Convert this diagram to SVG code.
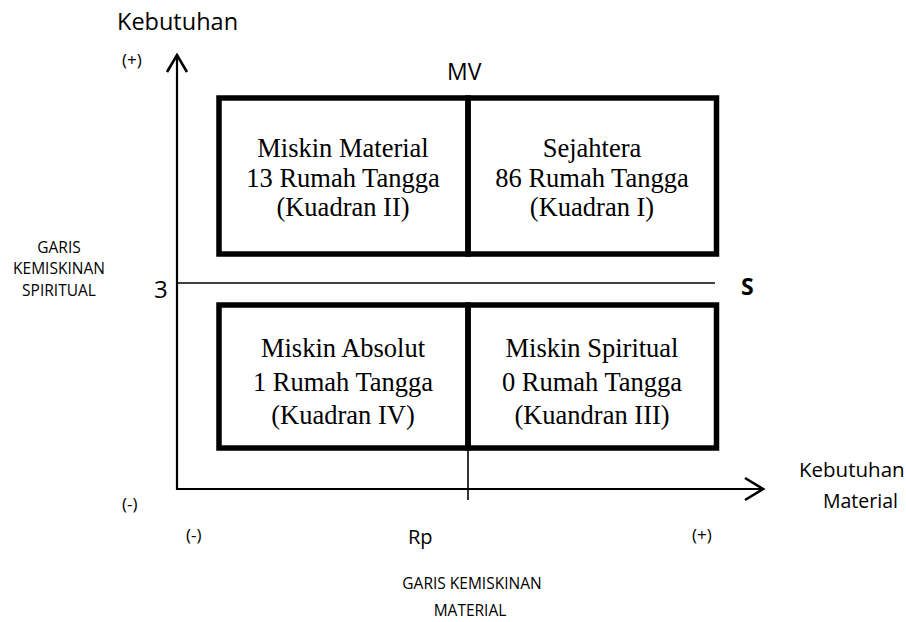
<svg xmlns="http://www.w3.org/2000/svg" width="906" height="622" viewBox="0 0 906 622">
<style>
.box{fill:none;stroke:#000;stroke-width:5.5}
.thin{fill:none;stroke:#000;stroke-width:1.6}
.axis{fill:none;stroke:#000;stroke-width:2.2}
.head{fill:none;stroke:#000;stroke-width:2.6;stroke-linejoin:miter}
.q{font-family:"Liberation Serif","Times New Roman",serif;font-size:26.5px;fill:#000;text-anchor:middle}
.s{font-family:"Open Sans","Liberation Sans",Arial,sans-serif;fill:#000}
</style>
<rect width="906" height="622" fill="#fff"/>
<g id="connectors">
<line class="axis" x1="177" y1="490" x2="177" y2="55"/>
<polyline class="head" points="167,72 177,55 187,72"/>
<line class="axis" x1="176" y1="489" x2="762" y2="489"/>
<polyline class="head" points="745,478 763,489 745,500"/>
<line class="thin" x1="177" y1="283" x2="715" y2="283"/>
<line class="thin" x1="468" y1="448" x2="468" y2="500"/>
</g>
<g id="quadrant-II">
<rect class="box" x="219" y="98" width="249" height="156"/>
<text class="q" x="343" y="157">Miskin Material</text>
<text class="q" x="343" y="187">13 Rumah Tangga</text>
<text class="q" x="343" y="216">(Kuadran II)</text>
</g>
<g id="quadrant-I">
<rect class="box" x="468" y="98" width="248.5" height="156"/>
<text class="q" x="592" y="157">Sejahtera</text>
<text class="q" x="592" y="187">86 Rumah Tangga</text>
<text class="q" x="592" y="216">(Kuadran I)</text>
</g>
<g id="quadrant-IV">
<rect class="box" x="219" y="305" width="249" height="143"/>
<text class="q" x="343" y="357">Miskin Absolut</text>
<text class="q" x="343" y="391">1 Rumah Tangga</text>
<text class="q" x="343" y="424">(Kuadran IV)</text>
</g>
<g id="quadrant-III">
<rect class="box" x="468" y="305" width="248.5" height="143"/>
<text class="q" x="592" y="357">Miskin Spiritual</text>
<text class="q" x="592" y="391">0 Rumah Tangga</text>
<text class="q" x="592" y="424">(Kuandran III)</text>
</g>
<g id="labels">
<text class="s" x="117" y="30" font-size="23.5">Kebutuhan</text>
<text class="s" x="122" y="66" font-size="17">(+)</text>
<text class="s" x="447" y="80" font-size="23">MV</text>
<text class="s" x="59" y="253" font-size="15.5" text-anchor="middle">GARIS</text>
<text class="s" x="59" y="274" font-size="15.5" text-anchor="middle">KEMISKINAN</text>
<text class="s" x="59" y="296" font-size="15.5" text-anchor="middle">SPIRITUAL</text>
<text class="s" x="154" y="298" font-size="24">3</text>
<text class="s" x="741" y="295" font-size="23" font-weight="bold">S</text>
<text class="s" x="799" y="477" font-size="20.5">Kebutuhan</text>
<text class="s" x="823" y="508" font-size="19.5">Material</text>
<text class="s" x="122" y="510" font-size="17">(-)</text>
<text class="s" x="186" y="541" font-size="17">(-)</text>
<text class="s" x="408" y="544" font-size="20">Rp</text>
<text class="s" x="692" y="541" font-size="17">(+)</text>
<text class="s" x="472" y="589" font-size="15.5" text-anchor="middle">GARIS KEMISKINAN</text>
<text class="s" x="470" y="616" font-size="15.5" text-anchor="middle">MATERIAL</text>
</g>
</svg>
